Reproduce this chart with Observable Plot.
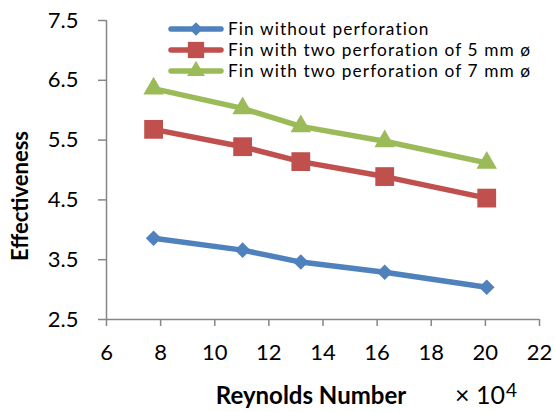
<!DOCTYPE html>
<html>
<head>
<meta charset="utf-8">
<script src="https://cdn.jsdelivr.net/npm/d3@7"></script>
<script src="https://cdn.jsdelivr.net/npm/@observablehq/plot@0.6"></script>
<style>
  html, body { margin: 0; padding: 0; background: #fff; }
  #wrap { position: relative; width: 555px; height: 412px; font-family: Lato, "Open Sans", sans-serif; }
  #legend { position: absolute; left: 168px; top: 19px; font-size: 17.3px; letter-spacing: 1.1px; color: #000; }
  #legend .row { display: flex; align-items: center; white-space: nowrap; height: 20.8px; line-height: 20.8px; }
  #legend svg { margin-right: 4px; flex: none; }
  #mult { position: absolute; left: 455px; top: 380px; font-size: 25px; line-height: 28px; white-space: nowrap; }
  #mult sup { font-size: 19px; position: relative; top: -7px; vertical-align: baseline; margin-left: 1px; }
  #chart g[aria-label="y-axis tick label"] text, #chart g[aria-label="x-axis tick label"] text { font-size: 22px; }
</style>
</head>
<body>
<div id="wrap"><div id="chart"></div><div id="legend"></div><div id="mult">× 10<sup>4</sup></div></div>
<script>
const reynolds = [7.74, 11.03, 13.18, 16.28, 20.05];
const seriesNames = [
  "Fin without perforation",
  "Fin with two perforation of 5 mm ø",
  "Fin with two perforation of 7 mm ø"
];
const noPerf = [3.86, 3.66, 3.46, 3.29, 3.04];
const perf5 = [5.68, 5.39, 5.14, 4.89, 4.53];
const perf7 = [6.36, 6.03, 5.73, 5.48, 5.12];
const colors = ["#4F81BD", "#C0504D", "#9BBB59"];
const symbols = ["diamond2", "square", "triangle"];
const markerR = [7, 10.6, 7.6];
const xTicks = [6, 8, 10, 12, 14, 16, 18, 20, 22];
const yTicks = [2.5, 3.5, 4.5, 5.5, 6.5, 7.5];

const seriesValues = [noPerf, perf5, perf7];
const data = seriesValues.flatMap((vals, i) =>
  vals.map((v, j) => ({series: seriesNames[i], x: reynolds[j], y: v})));

const axisColor = "#868686";
const plot = Plot.plot({
  width: 555,
  height: 412,
  marginLeft: 106,
  marginRight: 16,
  marginTop: 20,
  marginBottom: 93,
  style: {fontFamily: "Lato, 'Open Sans', sans-serif", fontSize: "22px", color: "#000", background: "#fff"},
  x: {domain: [6, 22]},
  y: {domain: [2.5, 7.5]},
  color: {domain: seriesNames, range: colors},
  marks: [
    Plot.axisY({ticks: yTicks, tickFormat: d => d.toFixed(1), tickSize: 8, tickPadding: 20, stroke: axisColor, strokeWidth: 1.5, fontSize: 22, label: null}),
    Plot.axisX({ticks: xTicks, tickFormat: d => String(d), tickSize: 7, tickPadding: 18, stroke: axisColor, strokeWidth: 1.5, fontSize: 22, label: null}),
    Plot.ruleX([6], {stroke: axisColor, strokeWidth: 1.5}),
    Plot.ruleY([2.5], {stroke: axisColor, strokeWidth: 1.5}),
    Plot.line(data, {x: "x", y: "y", z: "series", stroke: "series", strokeWidth: 5.5, strokeLinejoin: "round"}),
    ...seriesNames.map((s, i) => Plot.dot(data.filter(d => d.series === s), {x: "x", y: "y", fill: colors[i], symbol: () => symbols[i], r: markerR[i], stroke: "none"})),
    Plot.text(["Effectiveness"], {frameAnchor: "left", textAnchor: "middle", rotate: -90, dx: -86, dy: 26, fontSize: 22, fontWeight: "bold", fill: "#000"}),
    Plot.text(["Reynolds Number"], {frameAnchor: "bottom", textAnchor: "middle", dx: -12, dy: 84, fontSize: 24, fontWeight: "bold", fill: "#000"})
  ]
});
document.getElementById("chart").appendChild(plot);

// legend
const legend = document.getElementById("legend");
seriesNames.forEach((name, i) => {
  const row = document.createElement("div");
  row.className = "row";
  const sym = d3.symbol(d3[{diamond2: "symbolDiamond2", square: "symbolSquare", triangle: "symbolTriangle"}[symbols[i]]], Math.PI * markerR[i] * markerR[i] * 0.75)();
  row.innerHTML = `<svg width="56" height="20"><line x1="3" x2="53" y1="10" y2="10" stroke="${colors[i]}" stroke-width="5.5" stroke-linecap="round"/><path d="${sym}" transform="translate(28,10)" fill="${colors[i]}"/></svg><span>${name}</span>`;
  legend.appendChild(row);
});
</script>
</body>
</html>
